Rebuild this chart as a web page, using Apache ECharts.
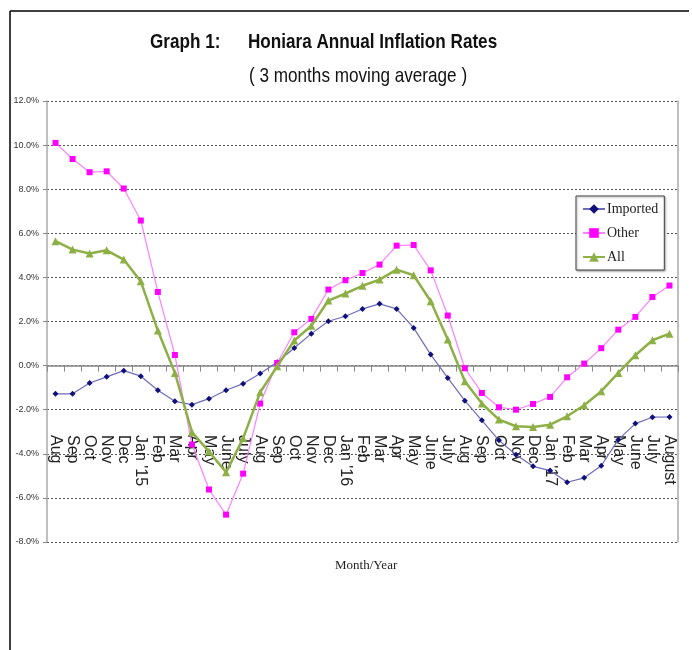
<!DOCTYPE html>
<html>
<head>
<meta charset="utf-8">
<style>html,body{margin:0;padding:0;background:#fff;}#c{width:692px;height:650px;}</style>
<script src="https://cdn.jsdelivr.net/npm/echarts@6/dist/echarts.min.js"></script>
</head>
<body>
<div id="c"></div>
<script>
var months = ["Aug","Sep","Oct","Nov","Dec","Jan '15","Feb","Mar","Apr","May","June","July",
  "Aug","Sep","Oct","Nov","Dec","Jan '16","Feb","Mar","Apr","May","June","July",
  "Aug","Sep","Oct","Nov","Dec","Jan '17","Feb","Mar","Apr","May","June","July","August"];
var imported = [-1.28,-1.28,-0.79,-0.51,-0.23,-0.48,-1.12,-1.62,-1.77,-1.5,-1.12,-0.82,-0.36,0.15,0.8,1.45,2.01,2.24,2.57,2.8,2.57,1.71,0.5,-0.56,-1.59,-2.48,-3.39,-4.04,-4.57,-4.76,-5.29,-5.09,-4.54,-3.36,-2.63,-2.34,-2.33];
var other = [10.1,9.37,8.77,8.81,8.03,6.58,3.34,0.48,-3.58,-5.62,-6.76,-4.9,-1.72,0.12,1.51,2.12,3.45,3.87,4.2,4.58,5.44,5.47,4.32,2.27,-0.12,-1.24,-1.89,-2.0,-1.74,-1.42,-0.53,0.09,0.79,1.63,2.21,3.11,3.63];
var all = [5.64,5.26,5.08,5.23,4.81,3.82,1.59,-0.33,-3.02,-3.9,-4.84,-3.3,-1.21,-0.03,1.14,1.81,2.95,3.27,3.62,3.9,4.35,4.1,2.92,1.18,-0.71,-1.72,-2.45,-2.75,-2.78,-2.68,-2.3,-1.8,-1.16,-0.33,0.47,1.15,1.45];
var yMin = -8, yMax = 12, yStep = 2;

var chart = echarts.init(document.getElementById('c'));
var titleFont = "'Liberation Sans',Arial,sans-serif";
chart.setOption({
  animation: false,
  backgroundColor: '#fff',
  graphic: [
    {type:'line', shape:{x1:10,y1:11,x2:689,y2:11}, style:{stroke:'#000',lineWidth:1.5}},
    {type:'line', shape:{x1:10,y1:11,x2:10,y2:650}, style:{stroke:'#000',lineWidth:1.5}},
    {type:'text', x:150, y:32, scaleX:0.815, style:{text:'Graph 1:', font:"bold 21px "+titleFont, fill:'#111'}},
    {type:'text', x:248, y:32, scaleX:0.815, style:{text:'Honiara Annual Inflation Rates', font:"bold 21px "+titleFont, fill:'#111'}},
    {type:'text', x:249, y:66, scaleX:0.816, style:{text:'( 3 months moving average )', font:"21px "+titleFont, fill:'#111'}},
    {type:'text', x:335, y:559, style:{text:'Month/Year', font:"13px 'Liberation Serif',serif", fill:'#222'}}
  ],
  grid: {left:47, right:14, top:101, bottom:108, containLabel:false, outerBoundsMode:'none'},
  legend: {
    orient:'vertical', left:576, top:196,
    data:['Imported','Other','All'],
    itemWidth:22, itemHeight:12, itemGap:10,
    padding:[6,6,6,6],
    backgroundColor:'#fff', borderColor:'#444', borderWidth:1,
    shadowBlur:2, shadowColor:'rgba(0,0,0,0.35)', shadowOffsetX:1, shadowOffsetY:1,
    textStyle:{fontFamily:"'Liberation Serif',serif", fontSize:14, color:'#222', padding:[0,0,0,-3]}
  },
  xAxis: {
    type:'category', data:months, boundaryGap:true,
    axisLine:{onZero:true, lineStyle:{color:'#888', width:1.5}},
    axisTick:{show:true, interval:0, length:6, lineStyle:{color:'#888'}},
    axisLabel:{interval:0, rotate:-90, margin:-107, fontSize:16, color:'#222', fontFamily:"'Liberation Sans',Arial,sans-serif"},
    splitLine:{show:false}
  },
  yAxis: [{
    type:'value', min:yMin, max:yMax, interval:yStep,
    axisLine:{show:true, onZero:false, lineStyle:{color:'#aaa', width:1.5}},
    axisTick:{show:true, length:4, lineStyle:{color:'#888'}},
    axisLabel:{margin:8, fontSize:9, color:'#333', fontFamily:"'Liberation Sans',Arial,sans-serif",
      formatter:function(v){return v.toFixed(1)+'%';}},
    splitLine:{show:true, lineStyle:{color:'#555', width:1, type:[2,2]}}
  },{
    type:'value', position:'right', min:yMin, max:yMax, interval:yStep,
    axisLine:{show:true, lineStyle:{color:'#aaa', width:1.5}},
    axisTick:{show:false}, axisLabel:{show:false}, splitLine:{show:false}
  }],
  series: [
    {name:'Imported', type:'line', data:imported, symbol:'diamond', symbolSize:6,
      itemStyle:{color:'#10107a'}, lineStyle:{color:'#6c6cb8', width:1.2}, z:3},
    {name:'Other', type:'line', data:other, symbol:'rect', symbolSize:6,
      itemStyle:{color:'#ff00ff'}, lineStyle:{color:'#ff80ff', width:1.2}, z:4},
    {name:'All', type:'line', data:all, symbol:'triangle', symbolSize:8,
      itemStyle:{color:'#8db046'}, lineStyle:{color:'#8db046', width:2.5}, z:5}
  ]
});
</script>
</body>
</html>
